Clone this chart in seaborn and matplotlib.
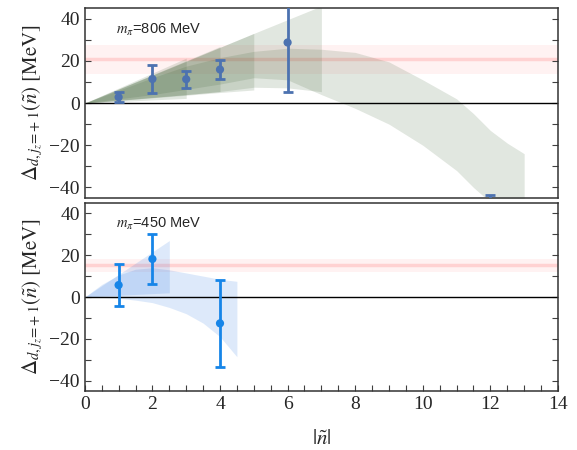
import numpy as np
import matplotlib
matplotlib.use("Agg")
import matplotlib.pyplot as plt
import seaborn as sns
from matplotlib.ticker import MultipleLocator

sns.set_style("ticks")
plt.rcParams['font.family'] = ['Liberation Serif', 'DejaVu Serif']
plt.rcParams['mathtext.fontset'] = 'stix'

# --- m_pi = 806 MeV (top panel) ---
n806 = [1, 2, 3, 4, 6, 12]
d806 = [2.8, 11.4, 11.3, 15.9, 28.7, -70.0]
e806_lo = [2.2, 6.8, 4.3, 4.7, 23.3, 26.0]
e806_hi = [2.3, 6.4, 4.1, 4.6, 23.3, 26.2]
ref806 = 21.0
ref806_lo, ref806_hi = 13.8, 27.6

# fit bands (truncated at different max |n|)
band806_n = [[0, 1, 2, 3],
             [0, 1, 2, 3, 4],
             [0, 1, 2, 3, 4, 5],
             [0, 1, 2, 3, 4, 5, 6, 7]]
band806_hi = [[0, 7.1, 14.2, 21.3],
              [0, 6.7, 13.4, 20.1, 26.8],
              [0, 6.6, 13.2, 19.8, 26.4, 33.0],
              [0, 6.6, 13.2, 19.8, 26.4, 33.0, 39.5, 46.0]]
band806_lo = [[0, 0.7, 1.5, 2.2],
              [0, 1.3, 2.7, 4.0, 5.4],
              [0, 1.2, 2.5, 3.7, 5.0, 6.2],
              [0, 1.3, 2.6, 4.0, 5.5, 7.5, 7.2, 5.4]]
big_n = [0, 1, 2, 3, 4, 5, 6, 7, 8, 9, 10, 10.5, 11, 11.5, 12, 12.5, 13]
big_hi = [0, 6, 12, 17.5, 21.5, 24.5, 26, 25.5, 24, 19.5, 11, 6.5, 2, -5, -13, -19, -24]
big_lo = [0, 2, 4, 6.5, 9, 12, 11, 4, -2.5, -10, -20, -26, -32, -40, -47, -55, -62]

# --- m_pi = 450 MeV (bottom panel) ---
n450 = [1, 2, 4]
d450 = [5.7, 18.2, -12.6]
e450_lo = [9.9, 12.2, 20.7]
e450_hi = [10.0, 12.1, 20.9]
ref450 = 15.1
ref450_lo, ref450_hi = 12.0, 18.0

band450_n = [[0, 0.5, 1, 1.5, 2, 2.5],
             [0, 0.5, 1, 1.5, 2, 2.5, 3, 3.5, 4, 4.5]]
band450_hi = [[0, 5.4, 10.8, 16.2, 21.6, 27.0],
              [0, 6.0, 10.5, 13.3, 14.0, 13.0, 11.5, 10.0, 8.5, 7.5]]
band450_lo = [[0, 0.4, 0.8, 1.2, 1.6, 2.0],
              [0, -0.2, -0.6, -1.5, -2.7, -5.0, -8.0, -12.5, -19.0, -28.6]]

green = '#3a5e30'
blue_fill = '#1f6fe0'
c806 = '#4c72b0'
c450 = '#1685e8'

fig = plt.figure(figsize=(5.77, 4.5), dpi=100)
ax1 = fig.add_axes([0.147, 0.56, 0.82, 0.422])
ax2 = fig.add_axes([0.147, 0.131, 0.82, 0.418])

ylab = r'$\Delta_{d,j_z\!=\!+1}(\tilde{n})\ [\mathrm{MeV}]$'

for ax in (ax1, ax2):
    ax.set_xlim(0, 14)
    ax.set_ylim(-45, 45)
    ax.yaxis.set_major_locator(MultipleLocator(20))
    ax.yaxis.set_minor_locator(MultipleLocator(10))
    ax.xaxis.set_major_locator(MultipleLocator(2))
    ax.xaxis.set_minor_locator(MultipleLocator(0.5))
    ax.tick_params(which='both', direction='in', left=True, right=True,
                   length=4, width=0.8, color='0.25', labelsize=14)
    for s in ax.spines.values():
        s.set_color('0.2')
        s.set_linewidth(1.1)
    ax.set_ylabel(ylab, fontsize=15, labelpad=3)
    ax.axhline(0, color='black', lw=1.0, zorder=2)

# top panel
ax1.axhspan(ref806_lo, ref806_hi, color='red', alpha=0.05, lw=0, zorder=0)
ax1.axhline(ref806, color='red', alpha=0.13, lw=2.5, zorder=0)
ax1.fill_between(big_n, big_lo, big_hi, color=green, alpha=0.15, lw=0, zorder=1)
for bn, bh, bl in zip(band806_n, band806_hi, band806_lo):
    ax1.fill_between(bn, bl, bh, color=green, alpha=0.15, lw=0, zorder=1)
ax1.errorbar(n806, d806, yerr=[e806_lo, e806_hi], fmt='none', ecolor=c806,
             elinewidth=2, capsize=3.5, capthick=2, zorder=3)
sns.scatterplot(x=n806, y=d806, color=c806, s=35, edgecolor='none', ax=ax1, zorder=4)
ax1.tick_params(axis='x', which='both', bottom=False, labelbottom=False)
ax1.text(0.93, 34.5, r'$m_\pi$=806 MeV', fontsize=10.5, va='center',
         family=['Liberation Sans', 'DejaVu Sans'])

# bottom panel
ax2.axhspan(ref450_lo, ref450_hi, color='red', alpha=0.05, lw=0, zorder=0)
ax2.axhline(ref450, color='red', alpha=0.13, lw=2.5, zorder=0)
for bn, bh, bl in zip(band450_n, band450_hi, band450_lo):
    ax2.fill_between(bn, bl, bh, color=blue_fill, alpha=0.15, lw=0, zorder=1)
ax2.errorbar(n450, d450, yerr=[e450_lo, e450_hi], fmt='none', ecolor=c450,
             elinewidth=2, capsize=3.5, capthick=2, zorder=3)
sns.scatterplot(x=n450, y=d450, color=c450, s=35, edgecolor='none', ax=ax2, zorder=4)
ax2.text(0.93, 35, r'$m_\pi$=450 MeV', fontsize=10.5, va='center',
         family=['Liberation Sans', 'DejaVu Sans'])
ax2.set_xlabel(r'$|\tilde{n}|$', fontsize=15, labelpad=12)

fig.savefig('out.png', dpi=100)
